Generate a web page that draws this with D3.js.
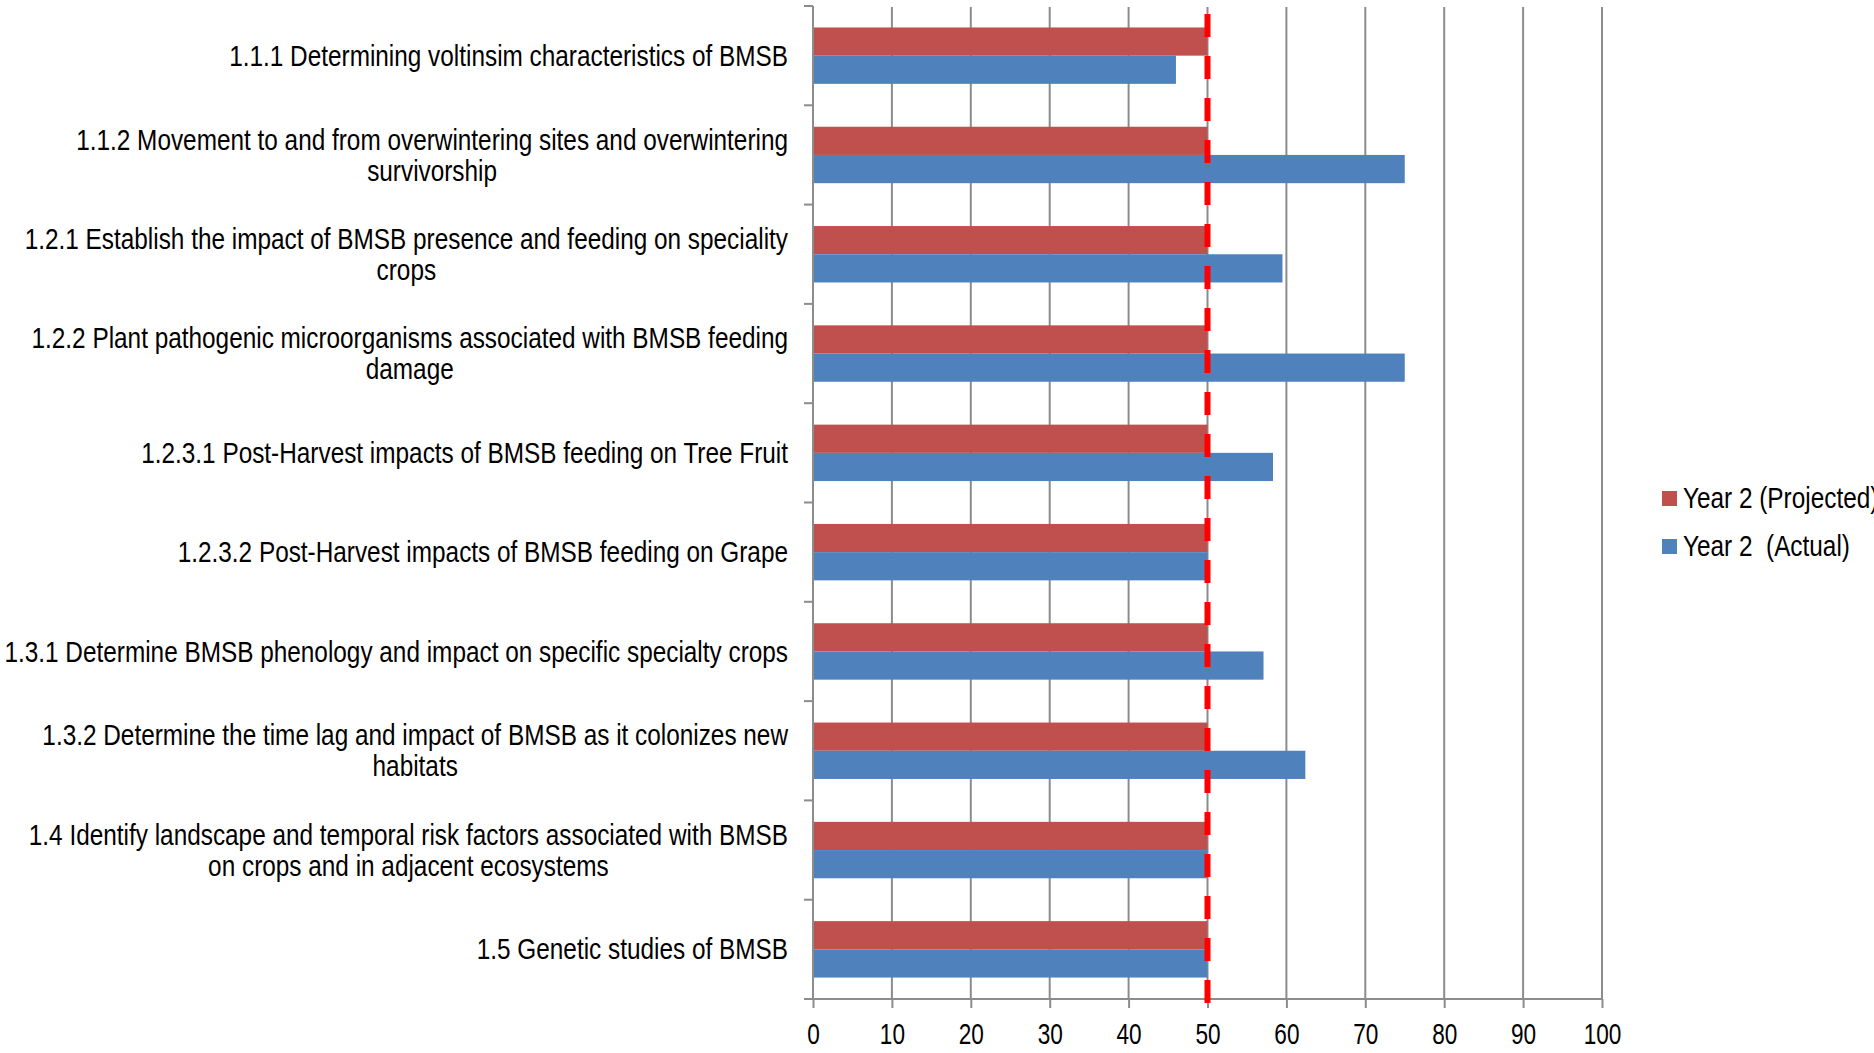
<!DOCTYPE html>
<html>
<head>
<meta charset="utf-8">
<script src="https://cdn.jsdelivr.net/npm/d3@7"></script>
<style>
body { margin: 0; background: #fff; }
svg text { font-family: "Liberation Sans Narrow", "Arial Narrow", "Liberation Sans", Arial, sans-serif; fill: #000; }
</style>
</head>
<body>
<svg id="chart" width="1874" height="1053"></svg>
<script>
// categories (each entry split into the lines shown on the chart)
var categories = [
	['1.1.1 Determining voltinsim characteristics of BMSB'],
	['1.1.2 Movement to and from overwintering sites and overwintering', 'survivorship'],
	['1.2.1 Establish the impact of BMSB presence and feeding on speciality', 'crops'],
	['1.2.2 Plant pathogenic microorganisms associated with BMSB feeding', 'damage'],
	['1.2.3.1 Post-Harvest impacts of BMSB feeding on Tree Fruit'],
	['1.2.3.2 Post-Harvest impacts of BMSB feeding on Grape'],
	['1.3.1 Determine BMSB phenology and impact on specific specialty crops'],
	['1.3.2 Determine the time lag and impact of BMSB as it colonizes new', 'habitats'],
	['1.4 Identify landscape and temporal risk factors associated with BMSB', 'on crops and in adjacent ecosystems'],
	['1.5 Genetic studies of BMSB']
];
var series = ['Year 2 (Projected)', 'Year 2  (Actual)'];
var projected = [50, 50, 50, 50, 50, 50, 50, 50, 50, 50];
var actual = [46, 75, 59.5, 75, 58.3, 50, 57.1, 62.4, 50, 50];
var xTicks = [0, 10, 20, 30, 40, 50, 60, 70, 80, 90, 100];
var target = 50;
var colors = ['#C0504D', '#4F81BD'];

var mLeft = 813, mRight = 1602, mTop = 6, mBottom = 999;
var fontSize = 29;
var narrow = 0.84; // no narrow font installed, squeeze the regular one

var svg = d3.select('#chart');

var ids = categories.map(function(c, i){ return 'c' + i; });
var xScale = d3.scaleLinear().domain([0, 100]).range([mLeft, mRight]);
var yScale = d3.scaleBand().domain(ids).range([mTop, mBottom]).padding(0);
var sScale = d3.scaleBand().domain(series).range([0, yScale.bandwidth()]).paddingInner(0).paddingOuter(0.76);

//Gridlines
svg.append('g').selectAll('line').data(xTicks.filter(function(d){ return d > 0; }))
	.enter().append('line')
	.attr('x1', function(d){ return xScale(d); })
	.attr('x2', function(d){ return xScale(d); })
	.attr('y1', mTop + 1)
	.attr('y2', mBottom)
	.attr('stroke', '#8c8c8c')
	.attr('stroke-width', 2);

//Bars
var rows = categories.map(function(c, i){
	return [{s: series[0], v: projected[i], id: ids[i]}, {s: series[1], v: actual[i], id: ids[i]}];
});
var groups = svg.append('g').selectAll('g').data(rows).enter().append('g')
	.attr('transform', function(d){ return 'translate(0,' + yScale(d[0].id) + ')'; });
groups.selectAll('rect').data(function(d){ return d; }).enter().append('rect')
	.attr('x', xScale(0))
	.attr('y', function(d){ return sScale(d.s); })
	.attr('width', function(d){ return xScale(d.v) - xScale(0); })
	.attr('height', sScale.bandwidth())
	.attr('fill', function(d, i){ return colors[i]; });

//Bottom axis
var xAxis = d3.axisBottom(xScale).tickValues(xTicks).tickSize(9).tickPadding(15).tickSizeOuter(0);
var ax = svg.append('g').attr('transform', 'translate(0,' + mBottom + ')').call(xAxis);
ax.select('.domain').attr('stroke', '#8c8c8c').attr('stroke-width', 2).attr('d', 'M' + (mLeft - 9) + ',0H' + mRight);
ax.selectAll('.tick line').attr('stroke', '#8c8c8c').attr('stroke-width', 2);
ax.selectAll('.tick text').attr('font-size', fontSize).attr('fill', '#000')
	.attr('transform', 'scale(0.78,1)')
	.style('font-family', '"Liberation Sans Narrow", "Arial Narrow", "Liberation Sans", Arial, sans-serif');

//Left axis with ticks between categories
var bounds = ids.map(function(id){ return yScale(id); }).concat([mBottom]);
svg.append('line').attr('x1', mLeft).attr('x2', mLeft).attr('y1', mTop).attr('y2', mBottom)
	.attr('stroke', '#8c8c8c').attr('stroke-width', 2);
svg.append('g').selectAll('line').data(bounds).enter().append('line')
	.attr('x1', mLeft - 9).attr('x2', mLeft)
	.attr('y1', function(d){ return d; }).attr('y2', function(d){ return d; })
	.attr('stroke', '#8c8c8c').attr('stroke-width', 2);

//Target line
svg.append('line')
	.attr('x1', xScale(target)).attr('x2', xScale(target))
	.attr('y1', 14).attr('y2', mBottom + 8)
	.attr('stroke', '#ff0000').attr('stroke-width', 6)
	.attr('stroke-dasharray', '23,19');

//Category labels
var labelRight = 788, lineGap = 31;
var labels = svg.append('g')
	.attr('transform', 'translate(' + labelRight + ',0) scale(' + narrow + ',1)')
	.selectAll('text').data(categories).enter().append('text')
	.attr('font-size', fontSize);
labels.each(function(lines, i){
	var t = d3.select(this);
	var cy = yScale(ids[i]) + yScale.bandwidth() / 2;
	var spans = lines.map(function(l, j){
		return t.append('tspan').text(l)
			.attr('y', cy + (j - (lines.length - 1) / 2) * lineGap)
			.attr('dy', '0.35em');
	});
	var maxW = d3.max(spans, function(s){ return s.node().getComputedTextLength(); });
	spans.forEach(function(s){
		s.attr('x', -maxW / 2).attr('text-anchor', 'middle');
	});
});

//Legend
var legend = svg.append('g').selectAll('g').data(series).enter().append('g')
	.attr('transform', function(d, i){ return 'translate(1662,' + (491 + i * 48) + ')'; });
legend.append('rect').attr('width', 15).attr('height', 15)
	.attr('fill', function(d, i){ return colors[i]; });
legend.append('text')
	.attr('transform', 'translate(21,17) scale(' + narrow + ',1)')
	.attr('font-size', fontSize)
	.style('white-space', 'pre')
	.text(function(d){ return d; });
</script>
</body>
</html>
